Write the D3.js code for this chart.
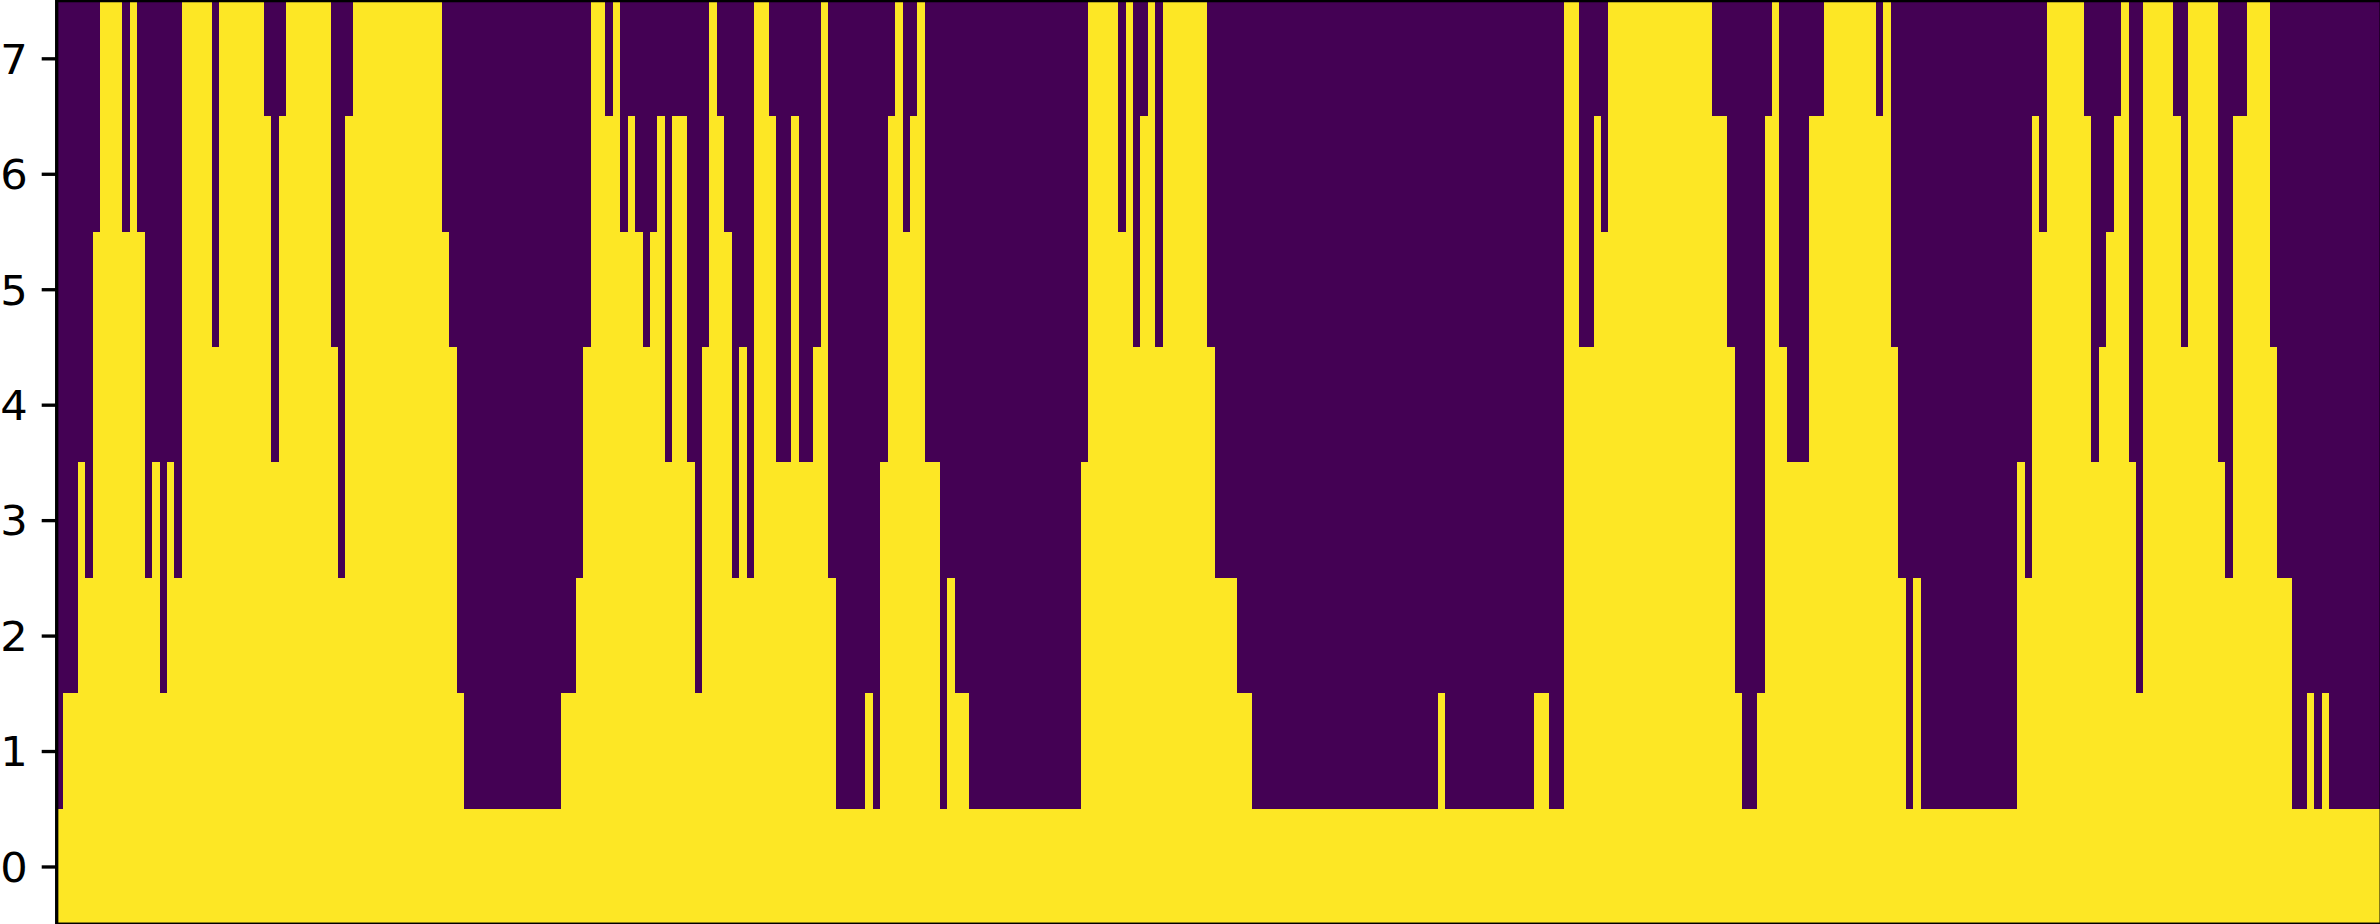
<!DOCTYPE html>
<html>
<head>
<meta charset="utf-8">
<script src="https://cdn.jsdelivr.net/npm/d3@7/dist/d3.min.js"></script>
<style>
html,body{margin:0;padding:0;background:#fff;overflow:hidden}
svg{display:block}
</style>
</head>
<body>
<svg id="chart" width="2380" height="924"></svg>
<script>
// Number of lit (yellow) rows counted from row 0, one value per column.
const columnHeights = [
1,2,2,4,3,6,8,8,8,6,8,6,3,4,2,4,3,8,8,8,8,5,
8,8,8,8,8,8,7,4,7,8,8,8,8,8,8,5,3,7,
8,8,8,8,8,8,8,8,8,8,8,8,6,5,2,
1,1,1,1,1,1,1,1,1,1,1,1,1,2,2,3,5,8,8,7,8,6,7,6,5,6,7,4,7,7,4,2,5,8,7,6,3,5,3,
8,8,7,4,4,7,4,4,5,8,3,
1,1,1,1,2,1,4,7,8,6,7,8,4,4,1,3,2,2,
1,1,1,1,1,1,1,1,1,1,1,1,1,1,1,4,8,8,8,8,6,8,5,7,8,5,8,8,8,8,8,8,5,3,3,3,2,2,
1,1,1,1,1,1,1,1,1,1,1,1,1,1,1,1,1,1,1,1,1,1,1,1,1,2,
1,1,1,1,1,1,1,1,1,1,1,1,2,2,1,1,8,8,5,5,7,6,
8,8,8,8,8,8,8,8,8,8,8,8,8,8,7,7,5,2,1,1,2,7,8,5,4,4,4,7,7,
8,8,8,8,8,8,8,7,8,5,3,1,3,
1,1,1,1,1,1,1,1,1,1,1,1,1,4,3,7,6,
8,8,8,8,8,7,4,5,6,7,8,4,2,8,8,8,8,7,5,8,8,8,8,4,3,7,7,
8,8,8,5,3,3,1,1,2,1,2,
1,1,1,1,1,1,1
];
const rowLabels = [0,1,2,3,4,5,6,7];
const cellColors = ["#440154","#fde725"];

const svg = d3.select("#chart");

const axesTop = 0.6, axesBottom = 924.2, imageLeft = 55.6, columnStep = 7.43;
const spineLeft = 56.7;
const imageRight = imageLeft + columnStep * columnHeights.length;

const x = d3.scaleLinear().domain([-0.5, columnHeights.length - 0.5]).range([imageLeft, imageRight]);
const y = d3.scaleLinear().domain([-0.5, 7.5]).range([axesBottom, axesTop]);

svg.append("clipPath").attr("id","axesClip").append("rect")
  .attr("x", spineLeft).attr("y", axesTop)
  .attr("width", imageRight - spineLeft).attr("height", axesBottom - axesTop);

const image = svg.append("g").attr("clip-path","url(#axesClip)");
image.append("rect")
  .attr("x", imageLeft).attr("y", axesTop)
  .attr("width", imageRight - imageLeft).attr("height", axesBottom - axesTop)
  .attr("fill", cellColors[0]);

image.selectAll("rect.column")
  .data(columnHeights)
  .join("rect")
  .attr("class","column")
  .attr("x", (d,i) => x(i - 0.5))
  .attr("width", (d,i) => x(i + 0.5) - x(i - 0.5))
  .attr("y", d => y(d - 0.5))
  .attr("height", d => y(-0.5) - y(d - 0.5))
  .attr("fill", cellColors[1])
  .attr("shape-rendering","crispEdges");

// Spines
svg.append("rect")
  .attr("x", spineLeft).attr("y", axesTop)
  .attr("width", imageRight - spineLeft).attr("height", axesBottom - axesTop)
  .attr("fill","none").attr("stroke","#000").attr("stroke-width",3.33);

// Row axis
const axis = d3.axisLeft(y).tickValues(rowLabels).tickFormat(d3.format("d")).tickSize(15).tickPadding(14.6);
const gAxis = svg.append("g").attr("transform",`translate(${spineLeft},0)`).call(axis);
gAxis.select(".domain").remove();
gAxis.selectAll("line").attr("stroke","#000").attr("stroke-width",3.33);
gAxis.selectAll("text")
  .attr("fill","#000")
  .attr("x", 0)
  .attr("transform","translate(-28.85,2) scale(1.08,1)")
  .style("font-family","'DejaVu Sans'")
  .style("font-size","40px");
</script>
</body>
</html>
